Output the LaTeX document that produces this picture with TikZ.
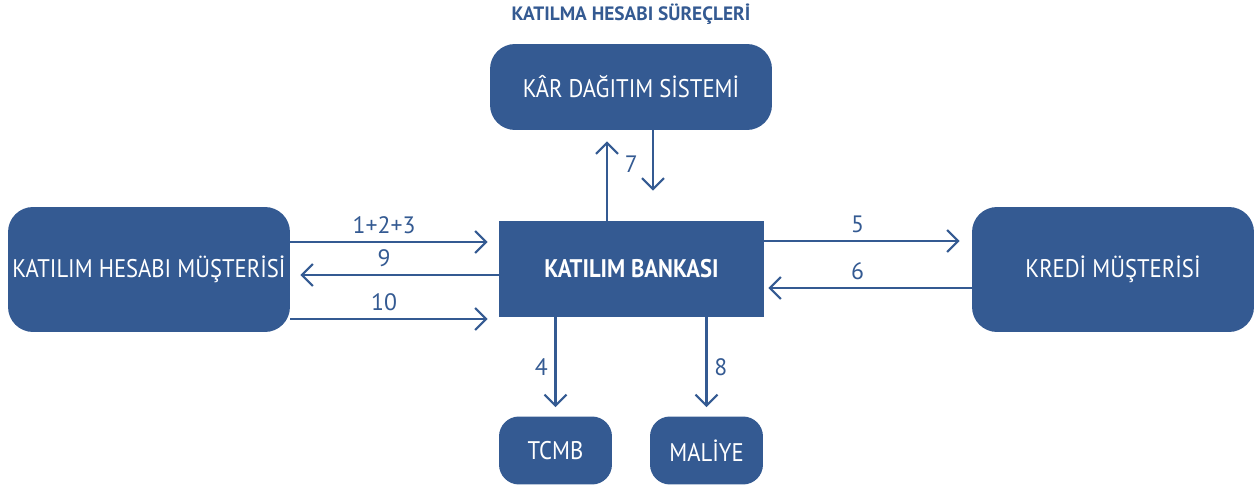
\documentclass[tikz,border=0pt]{standalone}
\usepackage{fontspec}
\setmainfont{PT Sans}
\newfontfamily\boxfont[FakeStretch=0.89]{PT Sans}
\usepackage{xcolor}
\usetikzlibrary{arrows.meta}
\usetikzlibrary{positioning}
\definecolor{bankblue}{HTML}{345A92}

\begin{document}
\begin{tikzpicture}[
  x=0.02cm, y=-0.02cm,
  box/.style={fill=bankblue, rounded corners=5mm, text=white, font=\boxfont\fontsize{14.5}{16}\selectfont, inner sep=0pt},
  bank/.style={fill=bankblue, text=white, font=\boxfont\bfseries\fontsize{14.5}{16}\selectfont, inner sep=0pt},
  arr/.style={draw=bankblue, line width=1.2pt, -{Straight Barb[length=2.2mm, width=4.4mm, line width=1.2pt]}},
  lbl/.style={text=bankblue, font=\fontsize{13.5}{15}\selectfont, inner sep=1pt}
]
\useasboundingbox (0,0) rectangle (1254,489);
\node[text=bankblue, font=\bfseries\fontsize{11}{13}\selectfont] (title) at (631,14) {KATILMA HESABI SÜREÇLERİ};
\node[box, minimum width=5.64cm, minimum height=1.72cm] (kar) at (631,87) {KÂR DAĞITIM SİSTEMİ};
\node[bank, minimum width=5.3cm, minimum height=1.92cm] (banka) at (631.5,269) {KATILIM BANKASI};
\node[box, minimum width=5.64cm, minimum height=2.5cm] (musteri) at (149,269.5) {KATILIM HESABI MÜŞTERİSİ};
\node[box, minimum width=5.64cm, minimum height=2.5cm] (kredi) at (1113,269.5) {KREDİ MÜŞTERİSİ};
\node[box, minimum width=2.26cm, minimum height=1.36cm, rounded corners=4mm] (tcmb) at (555.5,450.5) {TCMB};
\node[box, minimum width=2.26cm, minimum height=1.36cm, rounded corners=4mm] (maliye) at (706.5,450.5) {MALİYE};

% hesap sahibi ile banka
\draw[arr, shorten >=2.2mm] ([yshift=5.5mm]musteri.east) -- ([yshift=5.5mm]musteri.east -| banka.west)
  node[lbl, pos=0.45, above=1mm] {1+2+3};
\draw[arr, shorten >=2mm] ([yshift=-1.1mm]musteri.east -| banka.west) -- ([yshift=-1.1mm]musteri.east)
  node[lbl, pos=0.55, above=1mm] {9};
\draw[arr, shorten >=2.2mm] ([yshift=-9.9mm]musteri.east) -- ([yshift=-9.9mm]musteri.east -| banka.west)
  node[lbl, pos=0.45, above=1mm] {10};

% kredi
\draw[arr, shorten >=2.4mm] ([yshift=5.6mm]banka.east) -- ([yshift=5.6mm]banka.east -| kredi.west)
  node[lbl, pos=0.45, above=1mm] {5};
\draw[arr, shorten >=0.8mm] ([yshift=-3.8mm]banka.east -| kredi.west) -- ([yshift=-3.8mm]banka.east)
  node[lbl, pos=0.55, above=1mm] {6};

% kar dagitimi
\draw[arr, shorten >=2.2mm] ([xshift=-4.9mm]banka.north) -- ([xshift=-4.9mm]banka.north |- kar.south)
  node[lbl, pos=0.62, right=3mm] {7};
\draw[arr, shorten >=6mm] ([xshift=4.4mm]kar.south) -- ([xshift=4.4mm]kar.south |- banka.north);

% resmi kurumlar
\draw[arr, shorten >=1.8mm] (tcmb.north |- banka.south) -- (tcmb.north)
  node[lbl, midway, left=1mm] {4};
\draw[arr, shorten >=1.8mm] (maliye.north |- banka.south) -- (maliye.north)
  node[lbl, midway, right=1mm] {8};
\end{tikzpicture}
\end{document}
